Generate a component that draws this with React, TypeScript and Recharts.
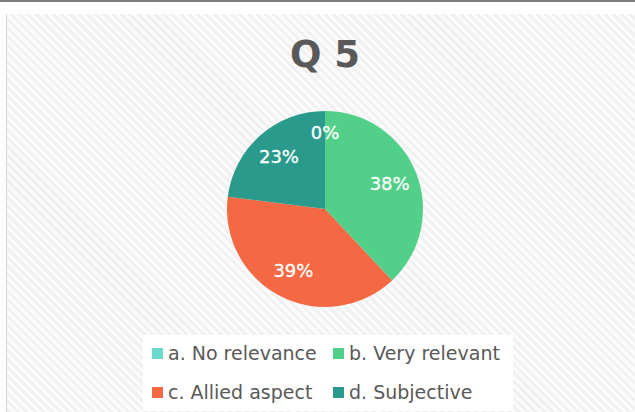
import React from 'react';
import { PieChart, Pie, Cell, Legend } from 'recharts';

const categories = ['a. No relevance', 'b. Very relevant', 'c. Allied aspect', 'd. Subjective'];
const shares = [0, 38, 39, 23];
const colors = ['#6DD8CE', '#52D08A', '#F46944', '#2A9A8C'];
const title = 'Q 5';

const data = categories.map((name, i) => ({ name, value: shares[i] }));

const RADIAN = Math.PI / 180;

const renderLabel = (props: any) => {
  const { cx, cy, midAngle, outerRadius, value } = props;
  const r = outerRadius * (value === 0 ? 0.78 : 0.71);
  const x = cx + r * Math.cos(-midAngle * RADIAN);
  const y = cy + r * Math.sin(-midAngle * RADIAN);
  return (
    <text
      x={x}
      y={y}
      fill="#FFFFFF"
      stroke="#FFFFFF"
      strokeWidth={0.3}
      textAnchor="middle"
      dominantBaseline="central"
      fontSize={18}
      fontFamily="DejaVu Sans"
    >
      {`${value}%`}
    </text>
  );
};

const renderLegend = (props: any) => {
  const { payload } = props;
  return (
    <div
      style={{
        display: 'grid',
        gridTemplateColumns: '181px 181px',
        gridAutoRows: '20px',
        rowGap: 19,
        padding: '8px 0 0 9px',
        width: 370,
        height: 76,
        boxSizing: 'border-box',
        background: '#FFFFFF',
        fontFamily: 'DejaVu Sans',
        fontSize: 19,
        lineHeight: '20px',
        color: '#595959',
      }}
    >
      {(payload || []).map((entry: any, i: number) => (
        <div key={i} style={{ display: 'flex', alignItems: 'center', height: 20 }}>
          <span
            style={{
              display: 'inline-block',
              width: 11,
              height: 11,
              background: entry.color,
              marginRight: 5,
              flexShrink: 0,
            }}
          />
          <span style={{ whiteSpace: 'nowrap' }}>{entry.value}</span>
        </div>
      ))}
    </div>
  );
};

export default function App() {
  return (
    <div
      style={{
        position: 'fixed',
        left: 0,
        top: 0,
        width: 635,
        height: 412,
        background: '#FFFFFF',
        overflow: 'hidden',
      }}
    >
      <div style={{ position: 'absolute', left: 0, top: 0, width: 635, height: 2, background: '#7F7F7F' }} />
      <div
        style={{
          position: 'absolute',
          left: 6,
          top: 14,
          width: 640,
          height: 410,
          borderLeft: '1.5px solid #D6D6D6',
          background:
            'repeating-linear-gradient(45deg, #FBFBFB 0px, #FBFBFB 3px, #F1F1F1 3px, #F1F1F1 6px)',
        }}
      />
      <div
        style={{
          position: 'absolute',
          left: 0,
          width: 650,
          top: 35,
          textAlign: 'center',
          fontFamily: 'DejaVu Sans',
          fontWeight: 'bold',
          fontSize: 37,
          lineHeight: '40px',
          color: '#595959',
        }}
      >
        {title}
      </div>
      <div style={{ position: 'absolute', left: 0, top: 0 }}>
        <PieChart width={635} height={412}>
          <Pie
            data={data}
            dataKey="value"
            nameKey="name"
            cx={320}
            cy={204}
            outerRadius={98}
            startAngle={90}
            endAngle={-270}
            stroke="none"
            label={renderLabel}
            labelLine={false}
            isAnimationActive={false}
          >
            {data.map((d, i) => (
              <Cell key={d.name} fill={colors[i]} />
            ))}
          </Pie>
          <Legend
            content={renderLegend}
            verticalAlign="bottom"
            wrapperStyle={{ left: 143, top: 335, bottom: 'auto', width: 370 }}
          />
        </PieChart>
      </div>
    </div>
  );
}
